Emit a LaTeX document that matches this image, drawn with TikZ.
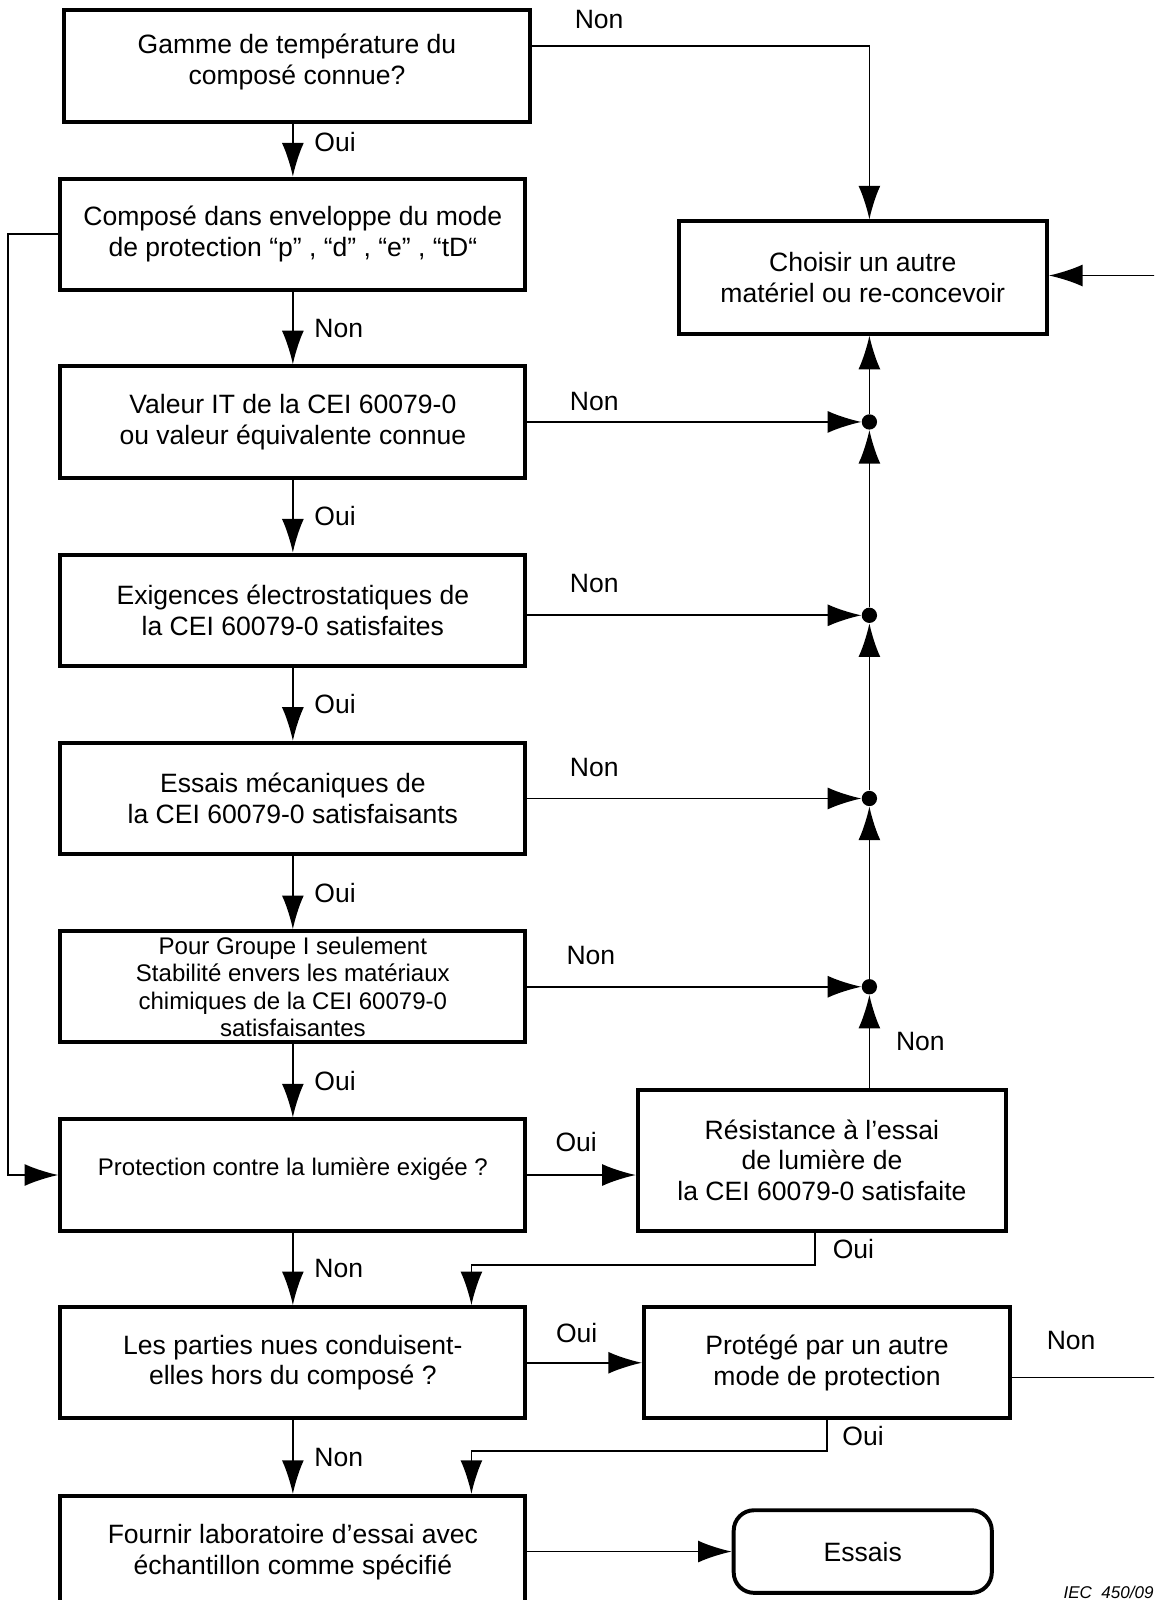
\documentclass[tikz,border=0pt]{standalone}
\usepackage{fontspec}
\setmainfont{Liberation Sans}
\usetikzlibrary{arrows.meta}
\usetikzlibrary{calc}

\tikzset{
	boite/.style={draw, line width=2.2pt, minimum width=9.12cm, minimum height=2.18cm, align=center, inner sep=0pt},
	petit/.style={font=\fontsize{13.4}{15.3}\selectfont},
	trait/.style={line width=1pt},
	fleche/.style={trait, -{Latex[length=0.66cm, width=0.43cm]}},
	point/.style={circle, fill, inner sep=0pt, minimum size=0.3cm},
	etiq/.style={inner sep=1pt}
}

\begin{document}
\begin{tikzpicture}[x=0.02cm, y=-0.02cm, font=\fontsize{14.8}{17}\selectfont]
	\clip (0,0) rectangle (1131,1568);
	\node[boite, minimum height=2.2cm] (box1) at (291,65) {Gamme de température du\\composé connue?\rule[-0.27cm]{0pt}{0pt}};
	\node[boite] (box2) at (287,229.5) {Composé dans enveloppe du mode\\de protection “p” , “d” , “e” , “tD“};
	\node[boite] (box3) at (287,413.5) {Valeur IT de la CEI 60079-0\\ou valeur équivalente connue};
	\node[boite] (box4) at (287,598) {Exigences électrostatiques de\\la CEI 60079-0 satisfaites};
	\node[boite] (box5) at (287,782.5) {Essais mécaniques de\\la CEI 60079-0 satisfaisants};
	\node[boite, petit] (box6) at (287,967) {Pour Groupe I seulement\\Stabilité envers les matériaux\\chimiques de la CEI 60079-0\\satisfaisantes};
	\node[boite, petit] (box7) at (287,1151.5) {Protection contre la lumière exigée ?\rule[-0.34cm]{0pt}{0pt}};
	\node[boite] (box8) at (287,1335.5) {Les parties nues conduisent-\\elles hors du composé ?};
	\node[boite, minimum height=2.2cm] (box9) at (287,1521) {Fournir laboratoire d’essai avec\\échantillon comme spécifié};
	\node[boite, minimum width=7.22cm, minimum height=2.2cm] (choisir) at (845.5,272) {Choisir un autre\\matériel ou re-concevoir};
	\node[boite, minimum width=7.22cm, minimum height=2.76cm] (resist) at (805.5,1137) {Résistance à l’essai\\de lumière de\\la CEI 60079-0 satisfaite};
	\node[boite, minimum width=7.18cm] (protege) at (810.5,1335.5) {Protégé par un autre\\mode de protection};
	\node[boite, minimum width=5.06cm, minimum height=1.62cm, rounded corners=0.4cm] (essais) at (845.5,1520.5) {Essais};
	\node[anchor=south west, inner sep=0pt, font=\fontsize{9.5}{11}\itshape] (ref) at (1042,1567) {IEC\ \ 450/09};

	\coordinate (col) at (852,0);
	\coordinate (bordD1) at (1140,270);
	\coordinate (bordD2) at (1140,1350);
	\node[point] (n3) at (box3.east -| col) {};
	\node[point] (n4) at ($(box4.east -| col)+(0,5)$) {};
	\node[point] (n5) at (box5.east -| col) {};
	\node[point] (n6) at (box6.east -| col) {};

	\draw[fleche] (box1.south -| box2.north) -- (box2.north) node[etiq, pos=0.33, right=0.37cm]{Oui};
	\draw[fleche] (box2.south) -- (box3.north) node[etiq, midway, right=0.37cm]{Non};
	\draw[fleche] (box3.south) -- (box4.north) node[etiq, midway, right=0.37cm]{Oui};
	\draw[fleche] (box4.south) -- (box5.north) node[etiq, midway, right=0.37cm]{Oui};
	\draw[fleche] (box5.south) -- (box6.north) node[etiq, midway, right=0.37cm]{Oui};
	\draw[fleche] (box6.south) -- (box7.north) node[etiq, midway, right=0.37cm]{Oui};
	\draw[fleche] (box7.south) -- (box8.north) node[etiq, midway, right=0.37cm]{Non};
	\draw[fleche] (box8.south) -- (box9.north) node[etiq, midway, right=0.37cm]{Non};

	\draw[fleche] ($(box1.east)+(0,-20)$) -| (choisir.north -| col) node[etiq, pos=0.1, above=0.28cm]{Non};
	\draw[fleche] (box3.east) -- (n3) node[etiq, pos=0.2, above=0.16cm]{Non};
	\draw[fleche] (box4.east |- n4) -- (n4) node[etiq, pos=0.2, above=0.38cm]{Non};
	\draw[fleche] (box5.east) -- (n5) node[etiq, pos=0.2, above=0.38cm]{Non};
	\draw[fleche] (box6.east) -- (n6) node[etiq, pos=0.19, above=0.38cm]{Non};
	\draw[fleche] (resist.north -| col) -- (n6) node[etiq, midway, right=0.47cm]{Non};
	\draw[fleche] (n6) -- (n5);
	\draw[fleche] (n5) -- (n4);
	\draw[fleche] (n4) -- (n3);
	\draw[fleche] (n3) -- (n3 |- choisir.south);
	\draw[fleche] (bordD1) -- (bordD1 -| choisir.east);

	\draw[fleche] (box2.west) -- ++(-49,0) |- (box7.west);
	\draw[fleche] (box7.east) -- (box7.east -| resist.west) node[etiq, pos=0.45, above=0.4cm]{Oui};
	\draw[fleche] ($(resist.south)+(-7,0)$) -- ++(0,32) node[etiq, midway, right=0.3cm]{Oui} -| ($(box8.north)+(175,0)$);
	\draw[fleche] (box8.east) -- (box8.east -| protege.west) node[etiq, pos=0.43, above=0.33cm]{Oui};
	\draw[trait] (protege.east |- bordD2) -- (bordD2) node[etiq, pos=0.39, above=0.5cm]{Non};
	\draw[fleche] (protege.south) -- ++(0,30) node[etiq, midway, right=0.25cm]{Oui} -| ($(box9.north)+(175,0)$);
	\draw[fleche] (box9.east |- essais.west) -- (essais.west);
\end{tikzpicture}
\end{document}
